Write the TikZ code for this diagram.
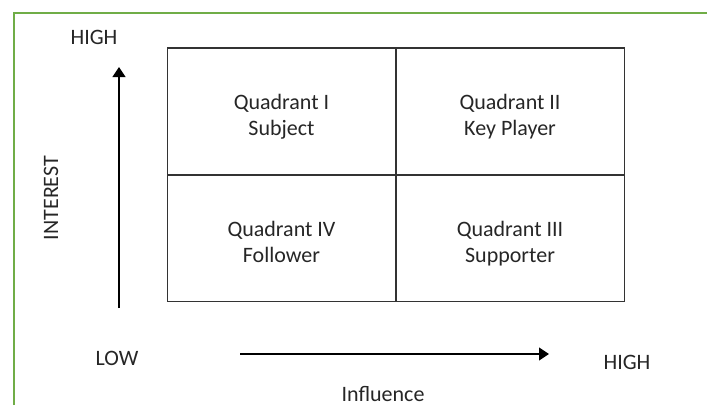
\documentclass[tikz,border=0pt]{standalone}
\usepackage{fontspec}
\setmainfont{Carlito}
\usetikzlibrary{positioning, arrows.meta}
\definecolor{frameGreen}{RGB}{112,173,71}

\begin{document}
\begin{tikzpicture}[
    x=0.75pt, y=-0.75pt,
    node distance=0pt,
    every node/.style={font=\fontsize{16.5}{19.5}\selectfont, text=black!85},
    cell/.style={draw=black!80, line width=1.1pt, minimum width=171.4pt, minimum height=95pt,
                 align=center, outer sep=0pt, inner sep=0pt, text height=36.5pt, text depth=0pt},
    axis/.style={line width=1.5pt, -{Triangle[length=7.5pt, width=9.5pt]}},
    lbl/.style={anchor=base, inner sep=0pt}
]
   \useasboundingbox (0,0) rectangle (707,405);

   % Frame
   \draw[frameGreen, line width=1.5pt] (13.5,405) -- (13.5,12.5) -- (707,12.5);

   % Quadrants
   \node[cell] (q1) at (281.5,111.5) {Quadrant I\\Subject};
   \node[cell] (q2) [right=of q1] {Quadrant II\\Key Player};
   \node[cell] (q4) [below=of q1] {Quadrant IV\\Follower};
   \node[cell] (q3) [right=of q4] {Quadrant III\\Supporter};

   % Axes
   \coordinate (ylow) at (119,308);
   \coordinate (yhigh) at (119,67);
   \coordinate (xlow) at (240,354);
   \coordinate (xhigh) at (549,354);
   \draw[axis] (ylow) -- (yhigh);
   \draw[axis] (xlow) -- (xhigh);

   % Labels
   \node[lbl] (hightop) at (94,44) {HIGH};
   \node[lbl] (low) at (117,365) {LOW};
   \node[lbl] (highright) at (627,369) {HIGH};
   \node[lbl] (influence) at (383,401) {Influence};
   \node[lbl, rotate=90] (interest) at (58,198) {INTEREST};
\end{tikzpicture}
\end{document}
